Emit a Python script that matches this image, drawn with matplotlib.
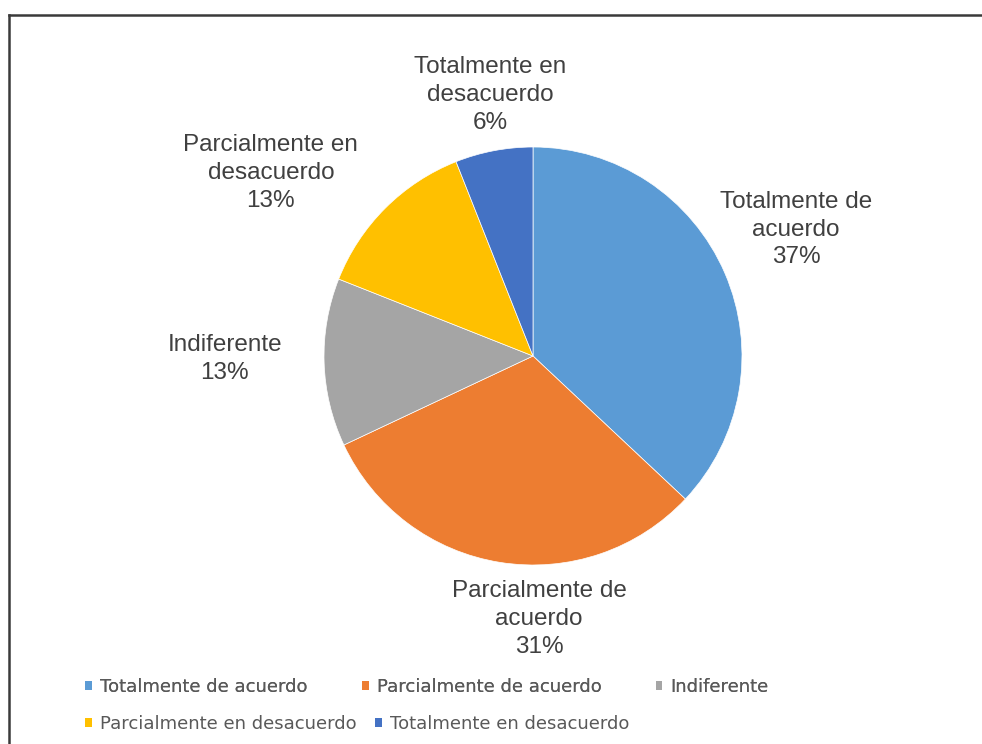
import matplotlib.pyplot as plt
from matplotlib.lines import Line2D
from matplotlib.patches import Patch

plt.rcParams['font.family'] = ['Liberation Sans', 'DejaVu Sans']

# survey answers and their share (%)
categorias = ["Totalmente de acuerdo", "Parcialmente de acuerdo", "Indiferente",
              "Parcialmente en desacuerdo", "Totalmente en desacuerdo"]
etiquetas = ["Totalmente de\nacuerdo", "Parcialmente de\nacuerdo", "Indiferente",
             "Parcialmente en\ndesacuerdo", "Totalmente en\ndesacuerdo"]
porcentajes = [37, 31, 13, 13, 6]
colores = ["#5B9BD5", "#ED7D31", "#A5A5A5", "#FFC000", "#4472C4"]

# where each data label sits, in pie coordinates (radius = 1)
pos_etiquetas = [(1.258, 0.605), (0.029, -1.258), (-1.474, -0.014),
                 (-1.254, 0.876), (-0.206, 1.249)]

W, H = 982, 744
fig = plt.figure(figsize=(W / 100, H / 100), dpi=100)
fig.patch.set_facecolor("white")

# chart frame (left and top edges visible)
fig.add_artist(Line2D([8.5 / W, 8.5 / W], [0, 1 - 14.5 / H], color="#3a3a3a", lw=1.8))
fig.add_artist(Line2D([8.5 / W, 1], [1 - 14.5 / H, 1 - 14.5 / H], color="#3a3a3a", lw=1.8))

cx, cy, r = 533, 356, 209
ax = fig.add_axes([(cx - r) / W, (H - cy - r) / H, 2 * r / W, 2 * r / H])
wedges, _ = ax.pie(porcentajes, colors=colores, startangle=90, counterclock=False,
                   radius=1, wedgeprops=dict(edgecolor="white", linewidth=0.5))
ax.set_xlim(-1, 1)
ax.set_ylim(-1, 1)
ax.set_aspect("equal")
ax.axis("off")

for lab, pct, (x, y) in zip(etiquetas, porcentajes, pos_etiquetas):
    ax.text(x, y, f"{lab}\n{pct}%", ha="center", va="center", fontsize=17.5,
            color="#404040", linespacing=1.33, clip_on=False)

# legend laid out row by row, like the spreadsheet chart
handles = [Patch(facecolor=c, edgecolor="none") for c in colores]
estilo = dict(frameon=False, loc="center left",
              handlelength=0.38, handleheight=0.38, handletextpad=0.45,
              labelcolor="#595959", prop={"family": "DejaVu Sans", "size": 13},
              borderpad=0, borderaxespad=0)
fila1 = fig.legend(handles[:3], categorias[:3], ncol=3,
                   bbox_to_anchor=(85 / W, 1 - 687 / H), columnspacing=3.0, **estilo)
fig.legend(handles[3:], categorias[3:], ncol=2,
           bbox_to_anchor=(85 / W, 1 - 724 / H), columnspacing=1.0, **estilo)
fig.add_artist(fila1)

fig.savefig("out.png", dpi=100)
